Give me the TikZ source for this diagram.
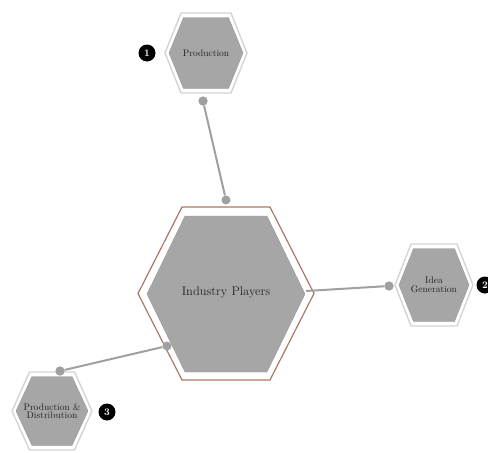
\documentclass[tikz,border=0pt]{standalone}
\usetikzlibrary{calc}
\definecolor{hexfill}{RGB}{166,166,166}
\definecolor{hexrim}{RGB}{212,212,212}
\definecolor{corerim}{RGB}{172,120,100}
\definecolor{linkgray}{RGB}{160,160,160}
\definecolor{labelink}{RGB}{35,35,35}
\tikzset{
  rimline/.style={draw=hexrim, line width=1.4pt, fill=white},
  corerimline/.style={draw=corerim, line width=1.2pt, fill=white},
  hexbody/.style={fill=hexfill, draw=hexfill!92!black, line width=0.4pt},
  linkline/.style={draw=linkgray, line width=2pt},
  linkdot/.style={circle, fill=linkgray, inner sep=0pt, minimum size=9pt},
  badge/.style={circle, fill=black, text=white, inner sep=0pt, minimum size=17pt,
    font=\bfseries\fontsize{10}{10}\selectfont},
  smalllabel/.style={text=labelink, align=center, font=\fontsize{9.5}{10.5}\selectfont},
  biglabel/.style={text=labelink, font=\fontsize{12.5}{14}\selectfont},
}
% hexagon with flat top and bottom: centre (#1,#2), side vertex offset #3,
% half width of the top edge #4, half height #5, style #6
\newcommand\flathex[6]{%
  \path[#6] (#1-#3,#2) -- (#1-#4,#2-#5) -- (#1+#4,#2-#5) -- (#1+#3,#2)
    -- (#1+#4,#2+#5) -- (#1-#4,#2+#5) -- cycle;}
\begin{document}
\begin{tikzpicture}[x=1pt,y=-1pt]
\useasboundingbox (0,0) rectangle (488,453);

% outer rims
\flathex{226}{293.5}{88}{44}{86.5}{corerimline}
\flathex{206}{53}{41}{25}{40}{rimline}
\flathex{434}{285}{39}{23}{41}{rimline}
\flathex{52}{411}{40}{22.5}{39}{rimline}

% connectors, running under the hexagon bodies
\node[linkdot] (pA) at (203,101) {};
\node[linkdot] (pB) at (226,200) {};
\node[linkdot] (iA) at (389,286) {};
\coordinate (iB) at (306,291);
\node[linkdot] (dA) at (60,371) {};
\node[linkdot] (dB) at (167,346) {};
\draw[linkline] (pA) -- (pB);
\draw[linkline] (iB) -- (iA);
\draw[linkline] (dA) -- (dB);

% hexagon bodies
\flathex{226}{294}{79}{41}{78}{hexbody}
\flathex{206}{53}{37}{22.5}{35.5}{hexbody}
\flathex{434}{285}{35}{20.5}{36.5}{hexbody}
\flathex{52}{411}{36}{20}{34.5}{hexbody}

% labels
\node[biglabel] (core) at (226,292) {Industry Players};
\node[smalllabel] (prod) at (206,53) {Production};
\node[smalllabel] (idea) at (434,285) {Idea\\[-2pt]Generation};
\node[smalllabel] (dist) at (52,411) {Production \&\\[-2pt]Distribution};

% numbered badges
\node[badge] (b1) at (147,53) {1};
\node[badge] (b2) at (485,285) {2};
\node[badge] (b3) at (107,412) {3};

% connector end tips sit on top of the small hexagons
\node[linkdot] at (pA) {};
\node[linkdot] at (iA) {};
\node[linkdot] at (dA) {};
\end{tikzpicture}
\end{document}
